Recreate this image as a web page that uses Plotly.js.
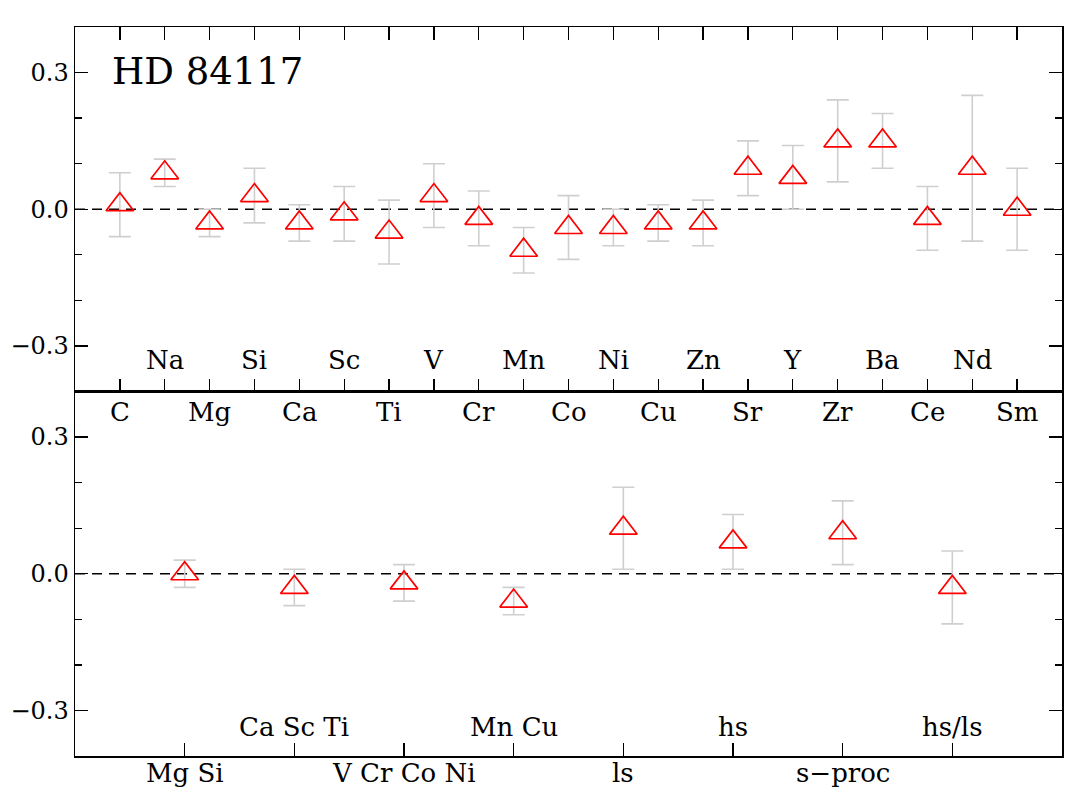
<!DOCTYPE html>
<html>
<head>
<meta charset="utf-8">
<script src="https://cdn.plot.ly/plotly-3.0.1.min.js"></script>
<style>
  body { margin: 0; background: #fff; }
  #graph { width: 1067px; height: 797px; }
</style>
</head>
<body>
<div id="graph"></div>
<script>
// element abundances (top panel)
var elements = ["C", "Na", "Mg", "Si", "Ca", "Sc", "Ti", "V", "Cr", "Mn", "Co",
                "Ni", "Cu", "Zn", "Sr", "Y", "Zr", "Ba", "Ce", "Nd", "Sm"];
var elemVal = [0.01, 0.08, -0.03, 0.03, -0.03, -0.01, -0.05, 0.03, -0.02, -0.09, -0.04,
               -0.04, -0.03, -0.03, 0.09, 0.07, 0.15, 0.15, -0.02, 0.09, 0.00];
var elemErr = [0.07, 0.03, 0.03, 0.06, 0.04, 0.06, 0.07, 0.07, 0.06, 0.05, 0.07,
               0.04, 0.04, 0.05, 0.06, 0.07, 0.09, 0.06, 0.07, 0.16, 0.09];

// group averages (bottom panel)
var groups = ["Mg Si", "Ca Sc Ti", "V Cr Co Ni", "Mn Cu", "ls", "hs", "s\u2212proc", "hs/ls"];
var groupVal = [0.00, -0.03, -0.02, -0.06, 0.10, 0.07, 0.09, -0.03];
var groupErr = [0.03, 0.04, 0.04, 0.03, 0.09, 0.06, 0.07, 0.08];

var starName = "HD 84117";

var serif = "DejaVu Serif";

function idx(arr) {
    var out = [];
    for (var i = 0; i < arr.length; i++) out.push(i);
    return out;
}

function pointTrace(vals, errs, xa, ya) {
    return {
        x: idx(vals), y: vals,
        xaxis: xa, yaxis: ya,
        type: "scatter", mode: "markers",
        marker: {symbol: "triangle-up-open", size: 24, color: "#ff0000", line: {width: 1.7, color: "#ff0000"}},
        error_y: {type: "data", array: errs, visible: true, color: "#cfcfcf", thickness: 1.6, width: 11},
        hoverinfo: "skip",
        showlegend: false
    };
}

var data = [
    pointTrace(elemVal, elemErr, "x", "y"),
    pointTrace(groupVal, groupErr, "x2", "y2")
];

// labels alternate: odd ones sit inside above the axis, even ones below it
var annotations = [];
elements.forEach(function (name, i) {
    annotations.push({
        x: i, xref: "x",
        y: (i % 2 === 1) ? -0.331 : 0.356,
        yref: (i % 2 === 1) ? "y" : "y2",
        text: name, showarrow: false, yanchor: "middle", xanchor: "center",
        font: {family: serif, size: 26, color: "#000"}
    });
});
groups.forEach(function (name, i) {
    var odd = (i % 2 === 1);
    annotations.push({
        x: i, xref: "x2",
        y: odd ? -0.336 : -0.024,
        yref: odd ? "y2" : "paper",
        text: name, showarrow: false, yanchor: "middle", xanchor: "center",
        font: {family: serif, size: 26, color: "#000"}
    });
});
annotations.push({
    x: 0.035, xref: "paper", y: 0.303, yref: "y",
    text: starName, showarrow: false, xanchor: "left", yanchor: "middle",
    font: {family: serif, size: 37, color: "#000"}
});

function yAxis(domain, anchor) {
    return {
        domain: domain, anchor: anchor,
        range: [-0.4, 0.4],
        tickvals: [-0.3, 0, 0.3], ticktext: ["\u22120.3", "0.0", "0.3"],
        ticks: "inside", ticklen: 13, tickwidth: 1.3, tickcolor: "#000",
        minor: {tickvals: [-0.2, -0.1, 0.1, 0.2], ticks: "inside", ticklen: 7, tickwidth: 1.3, tickcolor: "#000"},
        showline: true, linecolor: "#000", linewidth: 1.5, mirror: "ticks",
        showgrid: false, zeroline: false, fixedrange: true,
        tickfont: {family: serif, size: 24, color: "#000"}
    };
}

var layout = {
    width: 1067, height: 797,
    margin: {l: 75, r: 5, t: 27, b: 41},
    paper_bgcolor: "#fff", plot_bgcolor: "#fff",
    showlegend: false,
    xaxis: {
        domain: [0, 1], anchor: "y",
        range: [-1, 21], tickvals: idx(elements), showticklabels: false,
        ticks: "inside", ticklen: 13, tickwidth: 1.3, tickcolor: "#000",
        showline: true, linecolor: "#000", linewidth: 1.5, mirror: "ticks",
        showgrid: false, zeroline: false, fixedrange: true
    },
    yaxis: yAxis([0.5, 1], "x"),
    xaxis2: {
        domain: [0, 1], anchor: "y2",
        range: [-1, 8], tickvals: idx(groups), showticklabels: false,
        ticks: "inside", ticklen: 13, tickwidth: 1.3, tickcolor: "#000",
        showline: true, linecolor: "#000", linewidth: 1.5, mirror: true,
        showgrid: false, zeroline: false, fixedrange: true
    },
    yaxis2: yAxis([0, 0.5], "x2"),
    shapes: [
        {type: "line", xref: "x domain", x0: 0, x1: 1, yref: "y", y0: 0, y1: 0,
         line: {color: "#000", width: 1.5, dash: "10px,7px"}, layer: "below"},
        {type: "line", xref: "x2 domain", x0: 0, x1: 1, yref: "y2", y0: 0, y1: 0,
         line: {color: "#000", width: 1.5, dash: "10px,7px"}, layer: "below"}
    ],
    annotations: annotations
};

Plotly.newPlot("graph", data, layout, {displayModeBar: false, staticPlot: true});
</script>
</body>
</html>
